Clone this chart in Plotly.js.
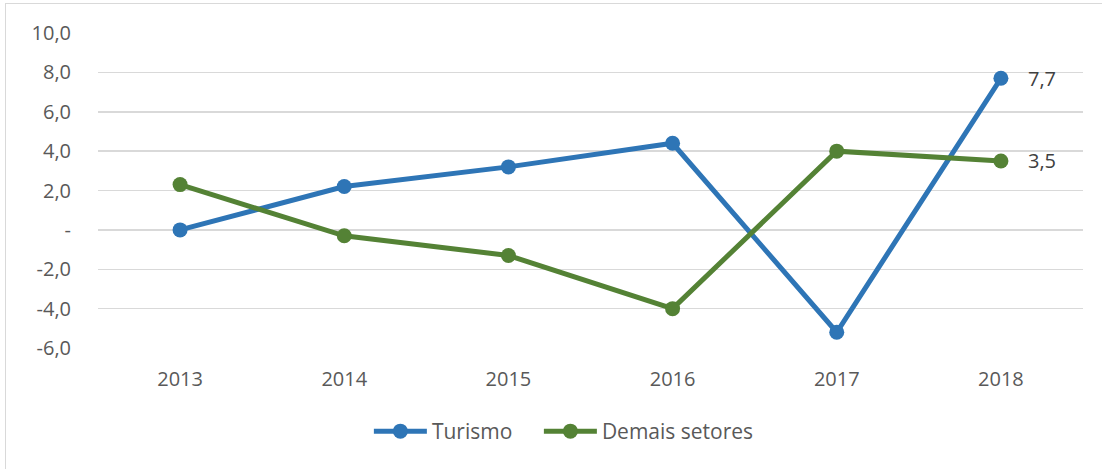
<!DOCTYPE html>
<html>
<head>
<meta charset="utf-8">
<script src="https://cdn.plot.ly/plotly-3.0.1.min.js"></script>
<style>
  html, body { margin: 0; padding: 0; background: #ffffff; }
  #wrap { position: relative; width: 1102px; height: 469px; overflow: hidden; }
  #chart { position: absolute; left: 0; top: 0; width: 1102px; height: 469px; }
  #frame { position: absolute; left: 5px; top: 3px; width: 1200px; height: 600px;
           border: 1.5px solid #d9d9d9; pointer-events: none; }
</style>
</head>
<body>
<div id="wrap">
  <div id="chart"></div>
  <div id="frame"></div>
</div>
<script>
const years = ['2013', '2014', '2015', '2016', '2017', '2018'];
const turismo = [0.0, 2.2, 3.2, 4.4, -5.2, 7.7];
const demais = [2.3, -0.3, -1.3, -4.0, 4.0, 3.5];
const yTickVals = [10, 8, 6, 4, 2, 0, -2, -4, -6];
const yTickText = ['10,0', '8,0', '6,0', '4,0', '2,0', '-', '-2,0', '-4,0', '-6,0'];

const fmt = v => v.toFixed(1).replace('.', ',');

const FONT = '"Open Sans", Lato, sans-serif';

const traces = [
  {
    x: years, y: turismo, name: 'Turismo', type: 'scatter', mode: 'lines+markers',
    line: { color: '#2e75b6', width: 5 },
    marker: { color: '#2e75b6', size: 15 },
    cliponaxis: false, legend: 'legend'
  },
  {
    x: years, y: demais, name: 'Demais setores', type: 'scatter', mode: 'lines+markers',
    line: { color: '#548235', width: 5 },
    marker: { color: '#548235', size: 15 },
    cliponaxis: false, legend: 'legend2'
  }
];

const lastIdx = years.length - 1;
const annotations = [turismo, demais].map(arr => ({
  x: lastIdx, y: arr[lastIdx], xref: 'x', yref: 'y',
  text: fmt(arr[lastIdx]), showarrow: false,
  xanchor: 'left', yanchor: 'middle', xshift: 25,
  font: { family: FONT, size: 20, color: '#404040' }
}));

const legendBase = {
  orientation: 'h', xanchor: 'left', y: -0.2, yanchor: 'top',
  font: { family: FONT, size: 21, color: '#595959' },
  itemwidth: 53, bgcolor: 'rgba(0,0,0,0)'
};

const layout = {
  width: 1102, height: 469,
  margin: { l: 98, r: 19, t: 33, b: 121 },
  paper_bgcolor: '#ffffff', plot_bgcolor: '#ffffff',
  font: { family: FONT, size: 18, color: '#595959' },
  showlegend: true,
  annotations: annotations,
  legend: Object.assign({}, legendBase, { x: 0.275 }),
  legend2: Object.assign({}, legendBase, { x: 0.4476 }),
  xaxis: {
    type: 'category', range: [-0.5, 5.5],
    showgrid: false, zeroline: false, showline: false,
    ticks: '', ticklabelstandoff: 17,
    tickfont: { family: FONT, size: 20, color: '#595959' },
    fixedrange: true
  },
  yaxis: {
    range: [-6, 10], tickvals: yTickVals, ticktext: yTickText,
    showgrid: true, gridcolor: '#d9d9d9', gridwidth: 1.5,
    zeroline: true, zerolinecolor: '#d9d9d9', zerolinewidth: 1.5,
    showline: false, ticks: '', ticklabelstandoff: 26,
    tickfont: { family: FONT, size: 20, color: '#595959' },
    fixedrange: true
  }
};

Plotly.newPlot('chart', traces, layout, { displayModeBar: false, staticPlot: true });
</script>
</body>
</html>
